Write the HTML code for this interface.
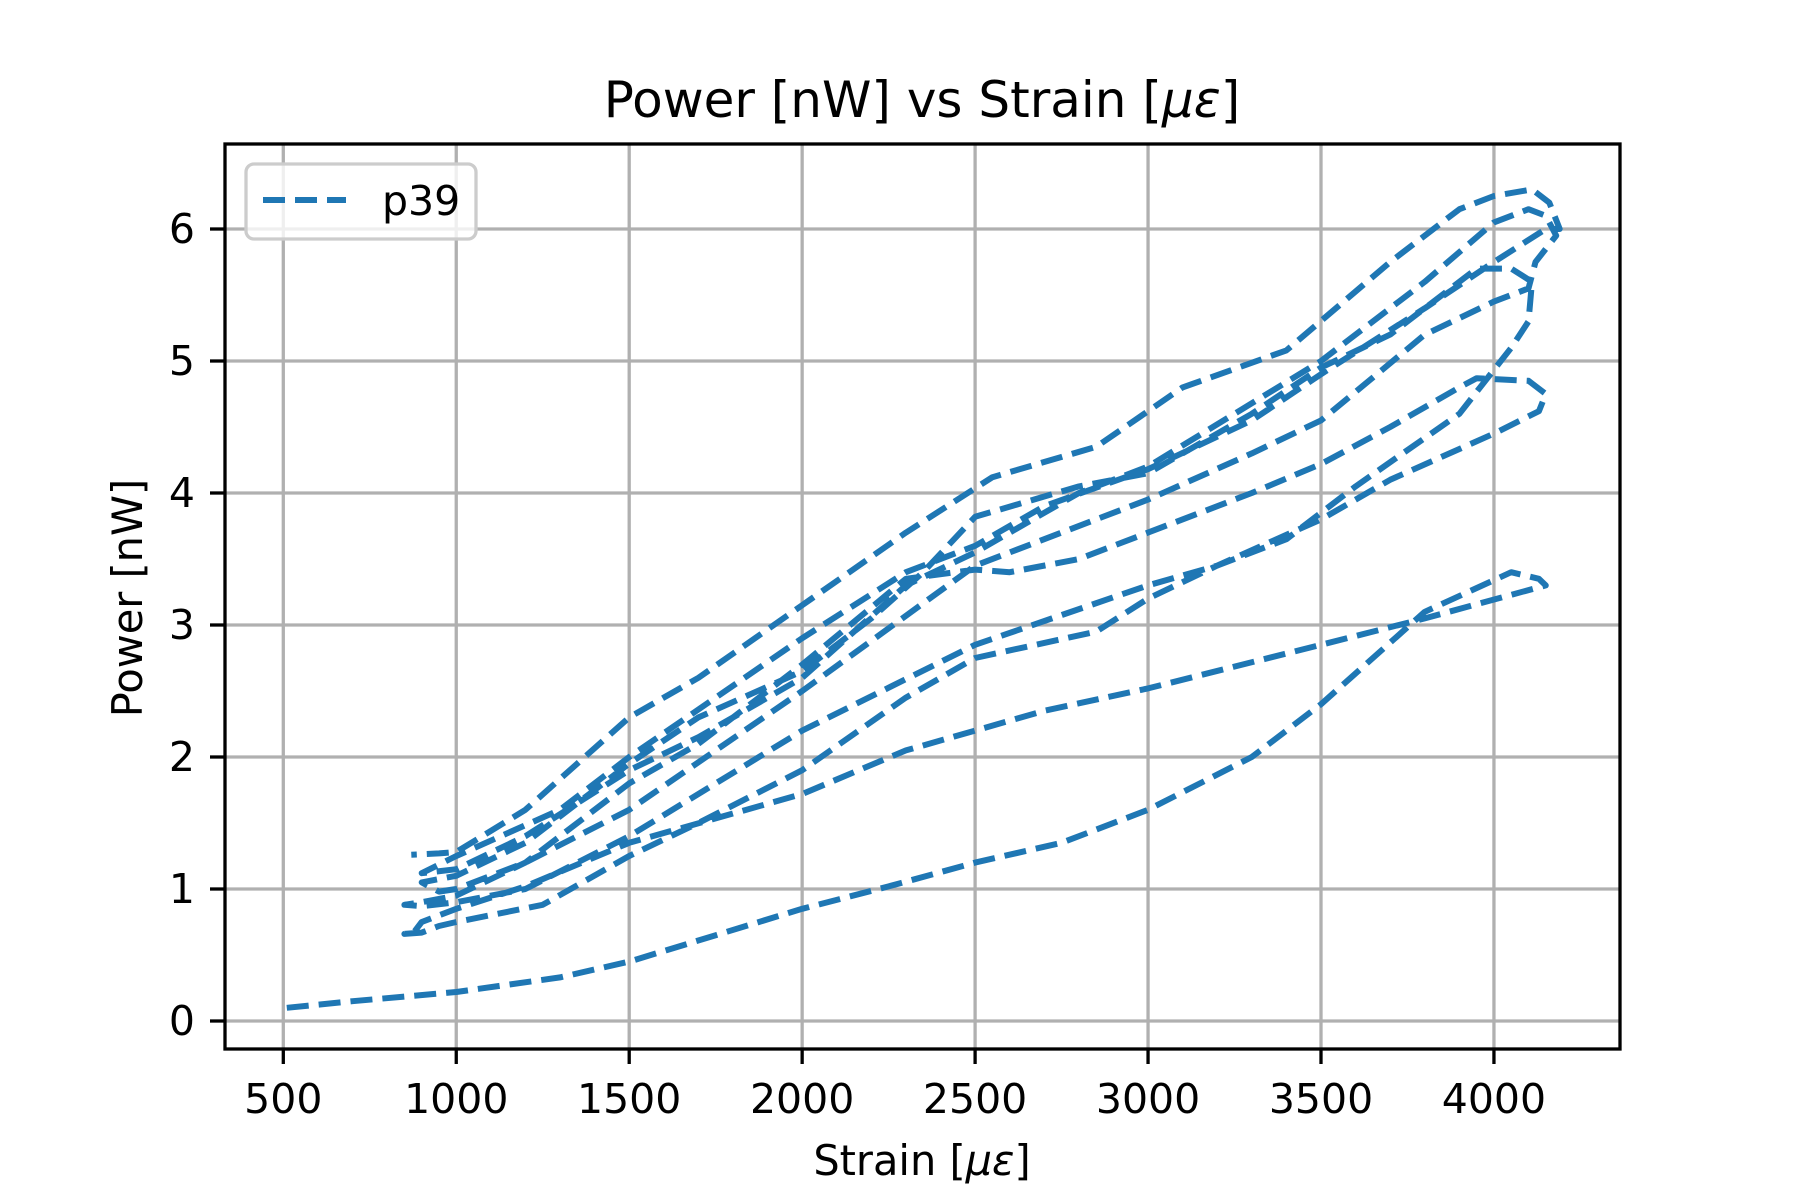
<!DOCTYPE html>
<html><head><meta charset="utf-8"><style>
html,body{margin:0;padding:0;background:#fff;}
svg{display:block;font-family:"DejaVu Sans","Liberation Sans",sans-serif;}
</style></head><body>
<svg id="chart" width="1800" height="1200" viewBox="0 0 1800 1200" xmlns="http://www.w3.org/2000/svg">
<rect width="1800" height="1200" fill="#fff"/>
<g id="grid"></g>
<g id="series"></g>
<rect x="225" y="144" width="1395" height="905" fill="none" stroke="#000" stroke-width="3.3"/>
<g id="ticks"></g>
<text x="922" y="117" font-size="50" text-anchor="middle">Power [nW] vs Strain [<tspan font-style="italic">με</tspan>]</text>
<text x="922" y="1175" font-size="41.5" text-anchor="middle">Strain [<tspan font-style="italic">με</tspan>]</text>
<text x="0" y="0" font-size="41.5" text-anchor="middle" transform="translate(142,598) rotate(-90)">Power [nW]</text>
<g>
<rect x="246" y="164" width="230" height="75" rx="8" fill="#fff" fill-opacity="0.8" stroke="#cccccc" stroke-width="3.3"/>
<line x1="263" y1="200" x2="346" y2="200" stroke="#1f77b4" stroke-width="6" stroke-dasharray="22 10"/>
<text x="382" y="215" font-size="41">p39</text>
</g>
</svg>
<script>
const xTicks = [500,1000,1500,2000,2500,3000,3500,4000];
const yTicks = [0,1,2,3,4,5,6];
const strain = [510,700,1000,1300,1500,1750,2000,2250,2500,2750,3000,3300,3500,3800,4050,4130,
4150,3800,3500,3000,2700,2500,2300,2000,1500,1200,1000,900,880,850,
900,950,1000,1250,1500,1700,2000,2300,2500,2850,3000,3200,3500,3700,4000,4130,4150,4100,3950,
3900,3700,3500,3300,3000,2800,2600,2500,2300,2000,1700,1500,1200,1000,900,850,
900,1000,1200,1500,2000,2500,3000,3200,3400,3600,3900,4050,4100,4110,4050,3950,
3700,3500,3300,3000,2800,2500,2350,2200,2000,1700,1500,1200,1000,900,950,
1000,1200,1500,2000,2500,3000,3300,3500,3800,4000,4100,4120,4180,4150,4100,4000,
3800,3500,3000,2800,2500,2300,2000,1700,1500,1200,1000,900,
1000,1300,1500,2000,2300,2500,2700,3000,3300,3500,3800,4000,4150,4190,4160,4110,4000,3900,
3700,3400,3100,3000,2850,2550,2300,2000,1700,1500,1200,1000,950,870];
const power = [0.1,0.15,0.22,0.33,0.45,0.65,0.85,1.02,1.2,1.35,1.6,2.0,2.4,3.1,3.4,3.35,
3.3,3.05,2.85,2.52,2.35,2.2,2.05,1.72,1.35,1.02,0.85,0.75,0.68,0.66,
0.67,0.72,0.75,0.88,1.25,1.5,1.9,2.45,2.75,2.95,3.2,3.45,3.8,4.1,4.45,4.62,4.75,4.85,4.87,
4.8,4.5,4.22,4.0,3.7,3.5,3.4,3.42,3.35,2.7,2.1,1.8,1.2,0.95,0.9,0.88,
0.87,0.9,1.0,1.4,2.2,2.85,3.3,3.45,3.65,4.05,4.6,5.1,5.3,5.6,5.7,5.7,
5.2,4.95,4.6,4.15,4.05,3.82,3.4,3.05,2.65,2.3,1.95,1.35,1.1,1.05,0.98,
1.0,1.2,1.6,2.5,3.45,3.95,4.3,4.55,5.2,5.45,5.55,5.75,5.95,6.1,6.15,6.05,
5.6,5.0,4.2,4.0,3.55,3.3,2.6,2.15,1.9,1.4,1.15,1.12,
1.25,1.6,2.0,2.9,3.4,3.6,3.9,4.18,4.55,4.9,5.4,5.75,6.0,6.0,6.2,6.3,6.25,6.15,
5.75,5.08,4.8,4.62,4.35,4.12,3.7,3.15,2.6,2.3,1.6,1.28,1.27,1.26];
const NS="http://www.w3.org/2000/svg";
function xs(v){return 283.3+(v-500)*0.3459;}
function ys(v){return 1021-v*132;}
const grid=document.getElementById('grid'), ticks=document.getElementById('ticks'), series=document.getElementById('series');
function mk(tag,attrs,parent){const e=document.createElementNS(NS,tag);for(const k in attrs)e.setAttribute(k,attrs[k]);parent.appendChild(e);return e;}
xTicks.forEach(t=>{
  const x=xs(t);
  const g=mk('line',{x1:x,y1:144,x2:x,y2:1049,stroke:'#b0b0b0','stroke-width':3.3},grid);
  
  
  const tk=mk('line',{x1:x,y1:1049,x2:x,y2:1064,stroke:'#000','stroke-width':3.3},ticks);
  
  
  const lb=mk('text',{x:x,y:1113,'font-size':41,'text-anchor':'middle'},ticks);
  lb.textContent=t;
  
  
});
yTicks.forEach(t=>{
  const y=ys(t);
  const g=mk('line',{x1:225,y1:y,x2:1620,y2:y,stroke:'#b0b0b0','stroke-width':3.3},grid);
  
  
  const tk=mk('line',{x1:210,y1:y,x2:225,y2:y,stroke:'#000','stroke-width':3.3},ticks);
  
  
  const lb=mk('text',{x:195,y:y+14,'font-size':41,'text-anchor':'end'},ticks);
  lb.textContent=t;
  
  
});
let d='';
strain.forEach((s,i)=>{d+=(i?'L':'M')+xs(s).toFixed(1)+' '+ys(power[i]).toFixed(1)+' ';});
const p=mk('path',{d:d,fill:'none',stroke:'#1f77b4','stroke-width':6,'stroke-dasharray':'22 10','stroke-linejoin':'round'},series);


</script>
</body></html>
